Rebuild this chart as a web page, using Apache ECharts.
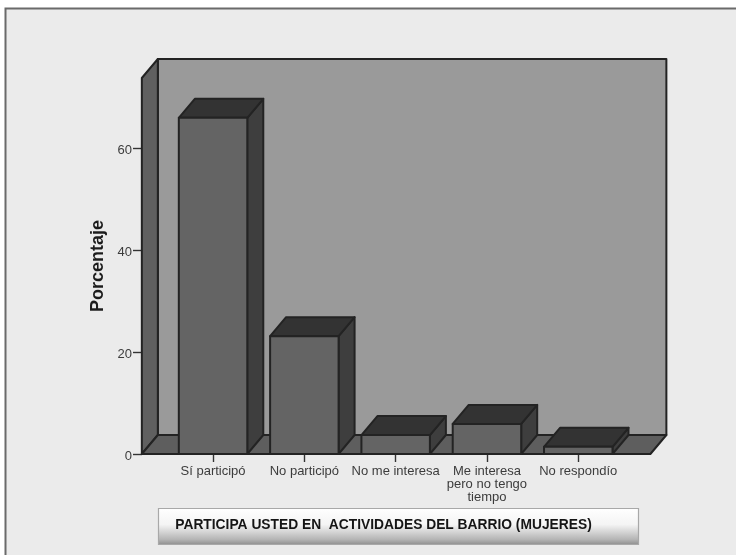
<!DOCTYPE html>
<html><head><meta charset="utf-8">
<style>html,body{margin:0;padding:0;background:#fff}#c{width:736px;height:555px;filter:blur(0.45px)}</style>
<script src="https://cdn.jsdelivr.net/npm/echarts@6/dist/echarts.min.js"></script>
</head><body><div id="c"></div>
<script>
const categories = ['Sí participó','No participó','No me interesa','Me interesa\npero no tengo\ntiempo','No respondío'];
const porcentaje = [65.9, 23.1, 3.7, 5.9, 1.4];
const yTicks = [0, 20, 40, 60];
const axisTitle = 'Porcentaje';
const boxTitle = 'PARTICIPA USTED EN  ACTIVIDADES DEL BARRIO (MUJERES)';

const DX = 16, DY = -19, LINE = '#232323';
const st = (fill) => ({fill, stroke: LINE, lineWidth: 2, lineJoin: 'round'});
const poly = (points, fill) => ({type:'polygon', shape:{points}, style: st(fill)});

const chart = echarts.init(document.getElementById('c'), null, {renderer:'canvas'});
chart.setOption({
  animation:false,
  backgroundColor:'#ebebeb',
  textStyle:{fontFamily:'Liberation Sans'},
  grid:{left:167.4, right:112.1, top:78, bottom:101, containLabel:false},
  xAxis:{type:'category', data:categories,
    axisLine:{show:true, lineStyle:{color:'#232323', width:2}},
    axisTick:{show:true, alignWithLabel:true, length:8, lineStyle:{color:'#333', width:1.4}},
    axisLabel:{color:'#3c3c3c', fontSize:13, margin:11, lineHeight:13, interval:0, fontFamily:'Liberation Sans'}},
  yAxis:{type:'value', min:0, max:73.7, position:'left', offset:25.4,
    name:axisTitle, nameLocation:'middle', nameGap:33, nameRotate:90,
    nameTextStyle:{color:'#1c1c1c', fontSize:18, fontWeight:'bold', fontFamily:'Liberation Sans'},
    splitLine:{show:false},
    axisLine:{show:false},
    axisTick:{show:true, length:9, customValues:yTicks, lineStyle:{color:'#333', width:1.4}},
    axisLabel:{color:'#3c3c3c', fontSize:13, margin:10, customValues:yTicks, fontFamily:'Liberation Sans', verticalAlign:'top', lineHeight:5}},
  series:[
    {type:'custom', coordinateSystem:'cartesian2d', z:1, silent:true, data:[[0,0]],
     renderItem(p, api){
       const band = api.size([1,0])[0];
       const o = api.coord([0,0]);
       const yTop = api.coord([0,73.7])[1];
       const c0 = o[0];                      // centre of first band
       const xL = c0 - band*0.78, xR = c0 + band*4.79;
       const y0 = o[1];
       return {type:'group', children:[
         poly([[xL+DX,yTop+DY],[xR+DX,yTop+DY],[xR+DX,y0+DY],[xL+DX,y0+DY]], '#9a9a9a'),
         poly([[xL,yTop],[xL+DX,yTop+DY],[xL+DX,y0+DY],[xL,y0]], '#606060'),
         poly([[xL,y0],[xL+DX,y0+DY],[xR+DX,y0+DY],[xR,y0]], '#5e5e5e')
       ]};
     }},
    {type:'custom', coordinateSystem:'cartesian2d', z:2, silent:true,
     data:porcentaje.map((v,i)=>[i,v]),
     encode:{x:0,y:1},
     renderItem(p, api){
       const i = api.value(0), v = api.value(1);
       const top = api.coord([i,v]), base = api.coord([i,0]);
       const w = api.size([1,0])[0]*0.75;
       const l = top[0]-w/2, r = top[0]+w/2, t = top[1], b = base[1];
       return {type:'group', children:[
         poly([[r,t],[r+DX,t+DY],[r+DX,b+DY],[r,b]], '#3e3e3e'),
         poly([[l,t],[l+DX,t+DY],[r+DX,t+DY],[r,t]], '#333333'),
         poly([[l,t],[r,t],[r,b],[l,b]], '#646464')
       ]};
     }}
  ],
  graphic:[
    {type:'rect', silent:true, z:-1, shape:{x:5.5,y:8.5,width:760,height:600},
     style:{fill:'#ebebeb', stroke:'#6a6a6a', lineWidth:2}},
    {type:'rect', silent:true, z:-2, shape:{x:0,y:0,width:736,height:8}, style:{fill:'#fff'}},
    {type:'rect', silent:true, z:-2, shape:{x:0,y:0,width:5,height:555}, style:{fill:'#fff'}},
    {type:'rect', silent:true, z:5, shape:{x:158.5,y:508.5,width:480,height:36},
     style:{fill:new echarts.graphic.LinearGradient(0,0,0,1,[
       {offset:0,color:'#ffffff'},{offset:0.45,color:'#f4f4f4'},{offset:0.85,color:'#b4b4b4'},{offset:1,color:'#8c8c8c'}]),
       stroke:'#a8a8a8', lineWidth:1.2}},
    {type:'text', silent:true, z:6, x:383.5, y:525,
     style:{text:boxTitle, fill:'#151515', font:'bold 13.8px "Liberation Sans"', align:'center', verticalAlign:'middle'}}
  ]
});
</script></body></html>
